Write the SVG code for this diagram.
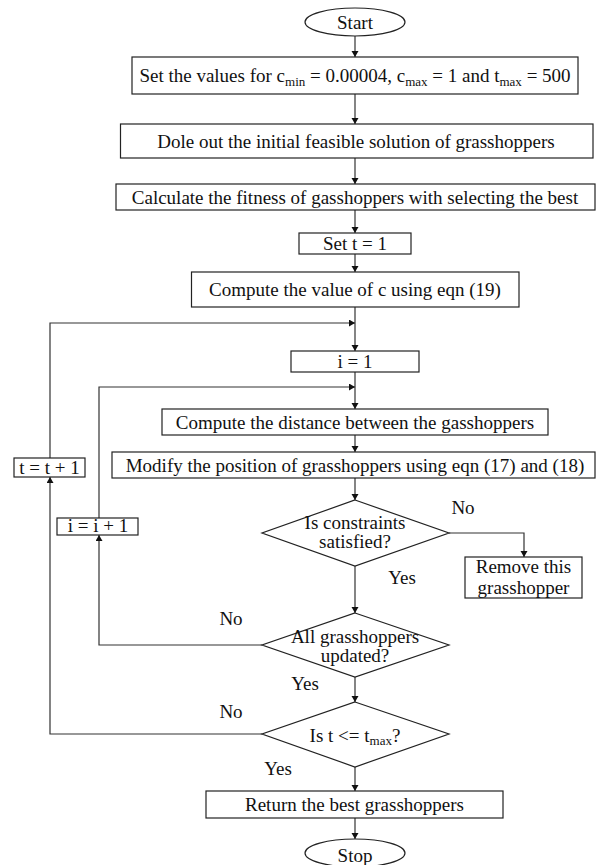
<svg xmlns="http://www.w3.org/2000/svg" width="598" height="865" viewBox="0 0 598 865">
<style>
.box{fill:#fff;stroke:#222;stroke-width:1.2}
.ln{fill:none;stroke:#333;stroke-width:1.2}
text{font-family:"Liberation Serif","Times New Roman",serif;font-size:19px;fill:#111;text-anchor:middle}
.sub{font-size:13px}
</style>
<defs>
<marker id="ah" markerUnits="userSpaceOnUse" markerWidth="8" markerHeight="8" refX="6" refY="3.5" orient="auto">
<path d="M0,0 L6,3.5 L0,7 z" fill="#111"/>
</marker>
</defs>
<rect width="598" height="865" fill="#fff"/>
<g id="connectors">
<line class="ln" x1="355" y1="36" x2="355" y2="57" marker-end="url(#ah)"/>
<line class="ln" x1="355" y1="94" x2="355" y2="124" marker-end="url(#ah)"/>
<line class="ln" x1="355" y1="158" x2="355" y2="184" marker-end="url(#ah)"/>
<line class="ln" x1="355" y1="210" x2="355" y2="233" marker-end="url(#ah)"/>
<line class="ln" x1="355" y1="254" x2="355" y2="272" marker-end="url(#ah)"/>
<line class="ln" x1="355" y1="307" x2="355" y2="351" marker-end="url(#ah)"/>
<line class="ln" x1="355" y1="372" x2="355" y2="409" marker-end="url(#ah)"/>
<line class="ln" x1="355" y1="435" x2="355" y2="452" marker-end="url(#ah)"/>
<line class="ln" x1="355" y1="478" x2="355" y2="500" marker-end="url(#ah)"/>
<line class="ln" x1="355" y1="566" x2="355" y2="613" marker-end="url(#ah)"/>
<line class="ln" x1="355" y1="677" x2="355" y2="702" marker-end="url(#ah)"/>
<line class="ln" x1="355" y1="767" x2="355" y2="791" marker-end="url(#ah)"/>
<line class="ln" x1="355" y1="818" x2="355" y2="839" marker-end="url(#ah)"/>
<polyline class="ln" points="449,533 524,533 524,557" marker-end="url(#ah)"/>
<polyline class="ln" points="262,645 99,645 99,535" marker-end="url(#ah)"/>
<polyline class="ln" points="99,518 99,387 355,387" marker-end="url(#ah)"/>
<polyline class="ln" points="262,734 50,734 50,477" marker-end="url(#ah)"/>
<polyline class="ln" points="50,458 50,323 355,323" marker-end="url(#ah)"/>
</g>
<g id="start"><ellipse class="box" cx="355" cy="22" rx="50" ry="14"/><text x="355" y="29">Start</text></g>
<g id="set-values"><rect class="box" x="132" y="57" width="446" height="37"/>
<text x="355" y="82">Set the values for c<tspan class="sub" dy="4">min</tspan><tspan dy="-4"> = 0.00004, c</tspan><tspan class="sub" dy="4">max</tspan><tspan dy="-4"> = 1 and t</tspan><tspan class="sub" dy="4">max</tspan><tspan dy="-4"> = 500</tspan></text></g>
<g id="dole-out"><rect class="box" x="120.5" y="124" width="472.5" height="34"/><text x="356" y="147.5">Dole out the initial feasible solution of grasshoppers</text></g>
<g id="calc-fitness"><rect class="box" x="116" y="184" width="479" height="26"/><text x="355" y="203.5">Calculate the fitness of gasshoppers with selecting the best</text></g>
<g id="set-t"><rect class="box" x="299" y="233" width="112" height="21"/><text x="355" y="250">Set t = 1</text></g>
<g id="compute-c"><rect class="box" x="191.5" y="272" width="327.5" height="35"/><text x="355" y="296">Compute the value of c using eqn (19)</text></g>
<g id="i-1"><rect class="box" x="291" y="351" width="128" height="21"/><text x="355" y="368">i = 1</text></g>
<g id="compute-dist"><rect class="box" x="162" y="409" width="386" height="26"/><text x="355" y="428.5">Compute the distance between the gasshoppers</text></g>
<g id="modify"><rect class="box" x="112" y="452" width="483" height="26"/><text x="355" y="471.5">Modify the position of grasshoppers using eqn (17) and (18)</text></g>
<g id="t-inc"><rect class="box" x="14" y="458" width="71" height="19"/><text x="49.5" y="474">t = t + 1</text></g>
<g id="i-inc"><rect class="box" x="57" y="518" width="81" height="17"/><text x="98" y="532">i = i + 1</text></g>
<g id="constraints"><polygon class="box" points="355,500 449,533 355,566 262,533"/><text x="355" y="529">Is constraints</text><text x="355" y="548">satisfied?</text></g>
<g id="remove"><rect class="box" x="465" y="557" width="117" height="41"/><text x="523.5" y="573">Remove this</text><text x="523.5" y="594">grasshopper</text></g>
<g id="all-updated"><polygon class="box" points="355,613 449,645 355,677 262,645"/><text x="355" y="643">All grasshoppers</text><text x="355" y="662">updated?</text></g>
<g id="t-check"><polygon class="box" points="355,702 449,734 355,767 262,734"/><text x="355" y="742">Is t &lt;= t<tspan class="sub" dy="3">max</tspan><tspan dy="-3">?</tspan></text></g>
<g id="return"><rect class="box" x="206" y="791" width="297" height="27"/><text x="354.5" y="811">Return the best grasshoppers</text></g>
<g id="stop"><ellipse class="box" cx="355" cy="853" rx="50" ry="14"/><text x="355" y="862">Stop</text></g>
<g id="labels">
<text x="463" y="514">No</text>
<text x="402" y="584">Yes</text>
<text x="231" y="625">No</text>
<text x="305" y="690">Yes</text>
<text x="231" y="718">No</text>
<text x="278" y="775">Yes</text>
</g>
</svg>
